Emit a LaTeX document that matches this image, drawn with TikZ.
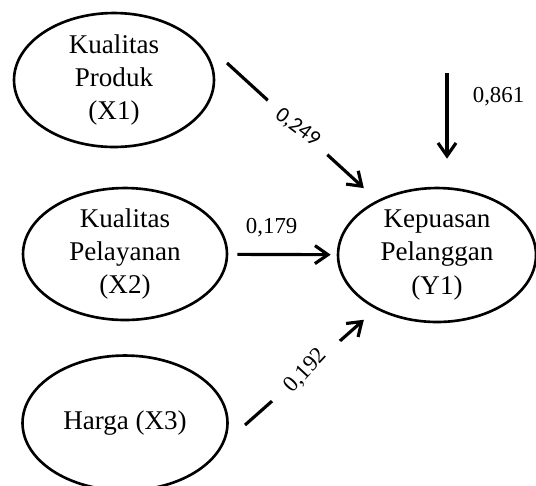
\documentclass[tikz,border=0pt]{standalone}
\usepackage{fontspec}
\setmainfont{Liberation Serif}
\newfontfamily\calibri{Carlito}
\usetikzlibrary{shapes.geometric,arrows.meta}
\begin{document}
\begin{tikzpicture}[x=0.02cm, y=-0.02cm]

        	\tikzstyle{latent} = [draw, ellipse, line width=1.5pt, inner sep=0pt, align=center, font=\fontsize{15.4}{18.8}\selectfont];
        	\tikzstyle{arr} = [line width=1.8pt, -{Straight Barb[length=2.6mm, width=3.6mm]}];
        	\tikzstyle{coef} = [fill=white, inner sep=1pt, font=\fontsize{13}{15}\selectfont];

        	\useasboundingbox (0,0) rectangle (536,485);

        	\node[latent, minimum width=4cm, minimum height=2.68cm] (x1) at (114,80) {Kualitas\\Produk\\(X1)};
        	\node[latent, minimum width=4.08cm, minimum height=2.64cm] (x2) at (125,254) {Kualitas\\Pelayanan\\(X2)};
        	\node[latent, minimum width=4.1cm, minimum height=2.7cm] (x3) at (125,423) {Harga (X3)};
        	\node[latent, minimum width=3.96cm, minimum height=2.68cm] (y1) at (437,255) {Kepuasan\\Pelanggan\\(Y1)};

        	\coordinate (s1) at (227,63);
        	\coordinate (s3) at (245,425);
        	\coordinate (s0) at (447,73);

        	\draw[arr, shorten >=0.36cm] (s1) -- node[coef, pos=.47, rotate=-37, minimum width=1.6cm] {\calibri\fontsize{12.5}{14}\selectfont 0,249} (y1);
        	\draw[arr, shorten <=0.18cm, shorten >=0.12cm] (x2) -- node[coef, pos=.4, above=0.28cm] {0,179} (y1);
        	\draw[arr, shorten >=0.32cm] (s3) -- node[coef, pos=.466, rotate=47, minimum width=1.8cm] {0,192} (y1);
        	\draw[arr, shorten >=0.56cm] (s0) -- node[coef, pos=.21, right=0.45cm] {0,861} (s0 |- y1.north);

    	\end{tikzpicture}
\end{document}
